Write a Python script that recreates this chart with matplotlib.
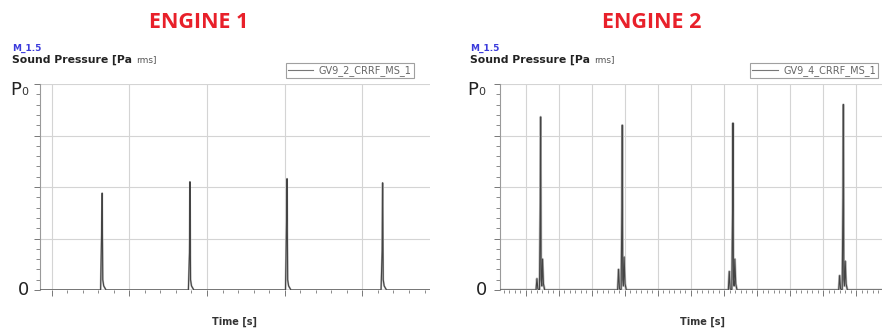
import matplotlib
matplotlib.use("Agg")
import matplotlib.pyplot as plt
from matplotlib.ticker import MultipleLocator
from matplotlib.text import Annotation

# ---------------- data ----------------
titles = ["ENGINE 1", "ENGINE 2"]
legend_labels = ["GV9_2_CRRF_MS_1", "GV9_4_CRRF_MS_1"]

# engine 1 : peak times and normalised heights (fraction of P0)
e1_times = [1.65, 2.78, 4.03, 5.26]
e1_heights = [0.47, 0.525, 0.54, 0.52]
e1_inner = [0.30, 0.18, 0.34, 0.19]          # darker inner part of spike
e1_xlim = (0.85, 5.87)

# engine 2 : main peaks, pre-peaks and after-bumps
e2_times = [1.45, 3.92, 7.27, 10.61]
e2_heights = [0.84, 0.80, 0.81, 0.90]
e2_pre = [0.055, 0.10, 0.09, 0.07]
e2_post = [0.15, 0.16, 0.15, 0.14]
e2_xlim = (0.22, 11.78)

fig = plt.figure(figsize=(8.82, 3.36), dpi=100)

H = 336.0
W = 882.0
def ax_rect(x0, x1, ytop, ybot):
    return [x0 / W, (H - ybot) / H, (x1 - x0) / W, (ybot - ytop) / H]

axL = fig.add_axes(ax_rect(40, 430, 84, 290))
axR = fig.add_axes(ax_rect(500, 882, 84, 290))

def build_trace(times, heights, inner, pre, post, xlim, w):
    xs = [xlim[0]]
    ys = [0.0]
    for i, t in enumerate(times):
        if pre is not None:
            xs += [t - 4 * w, t - 3.2 * w, t - 2.4 * w]
            ys += [0.0, pre[i], 0.005]
        xs += [t - w, t - 0.3 * w, t, t + 0.4 * w, t + w]
        ys += [0.0, inner[i] if inner is not None else heights[i] * 0.5, heights[i], 0.05, 0.02]
        if post is not None:
            xs += [t + 1.6 * w, t + 2.4 * w, t + 3.5 * w]
            ys += [post[i], 0.03, 0.0]
        else:
            xs += [t + 2.5 * w]
            ys += [0.0]
    xs.append(xlim[1])
    ys.append(0.0)
    return xs, ys

def style_axes(ax, xlim, major, minor):
    ax.set_xlim(*xlim)
    ax.set_ylim(0, 1.0)
    for s in ["top", "right", "bottom"]:
        ax.spines[s].set_visible(False)
    ax.spines["left"].set_color("#9a9a9a")
    ax.spines["left"].set_linewidth(0.8)
    ax.xaxis.set_major_locator(MultipleLocator(major))
    ax.xaxis.set_minor_locator(MultipleLocator(minor))
    ax.yaxis.set_major_locator(MultipleLocator(0.25))
    ax.yaxis.set_minor_locator(MultipleLocator(0.05))
    ax.tick_params(axis="both", which="both", labelleft=False, labelbottom=False,
                   color="#777777", direction="out")
    ax.tick_params(axis="x", which="major", length=4, width=0.7)
    ax.tick_params(axis="x", which="minor", length=2.5, width=0.6)
    ax.tick_params(axis="y", which="major", length=4, width=0.7)
    ax.tick_params(axis="y", which="minor", length=3, width=0.6)
    ax.grid(True, which="major", color="#d4d4d4", linewidth=0.8)
    ax.set_axisbelow(True)

# left panel
style_axes(axL, e1_xlim, 1.0, 0.2)
xs, ys = build_trace(e1_times, e1_heights, e1_inner, None, None, e1_xlim, 0.02)
axL.plot(xs, ys, color="#bbbbbb", lw=1.4, zorder=2)
axL.plot(xs, ys, color="#444444", lw=0.8, label=legend_labels[0], zorder=3)
axL.axhline(0, color="#555555", lw=1.0, zorder=1)

# right panel
style_axes(axR, e2_xlim, 1.0, 1 / 6)
xs2, ys2 = build_trace(e2_times, e2_heights, None, e2_pre, e2_post, e2_xlim, 0.035)
axR.plot(xs2, ys2, color="#bbbbbb", lw=1.8, zorder=2)
axR.plot(xs2, ys2, color="#444444", lw=0.8, label=legend_labels[1], zorder=3)
axR.axhline(0, color="#555555", lw=1.0, zorder=1)

for ax, anchor in [(axL, (0.958, 1.03)), (axR, (0.99, 1.03))]:
    leg = ax.legend(loc="lower right", bbox_to_anchor=anchor, frameon=True,
                    fancybox=False, fontsize=7, handlelength=2.6,
                    borderpad=0.2, handletextpad=0.6, borderaxespad=0)
    leg.get_frame().set_edgecolor("#888888")
    leg.get_frame().set_linewidth(0.8)
    for t in leg.get_texts():
        t.set_color("#666666")
    for l in leg.get_lines():
        l.set_color("#777777")

def px(x, y):
    return x / W, (H - y) / H

# titles
for xc, t in [(199, titles[0]), (652, titles[1])]:
    fig.text(*px(xc, 23), t, color="#e8202a", fontsize=15.5, fontweight="bold",
             family="Open Sans", ha="center", va="center")

# header texts
for x0 in [12, 470]:
    fig.text(*px(x0, 48), "M_1.5", color="#3b3bdc", fontsize=6.5, fontweight="bold",
             ha="left", va="center")
    t1 = fig.text(*px(x0, 60), "Sound Pressure [Pa", color="#222222", fontsize=7.8,
                  fontweight="bold", ha="left", va="center")
    fig.add_artist(Annotation("rms]", xy=(1, 0.5), xycoords=t1, xytext=(3, 0),
                              textcoords="offset points", ha="left", va="center",
                              fontsize=6.5, color="#555555"))

# P0 and 0 labels
for xp, x0 in [(10, 18), (467, 476)]:
    fig.text(*px(xp, 90), "P", fontsize=13, color="#222222", ha="left", va="center")
    fig.text(*px(xp + 11, 92), "0", fontsize=8, color="#333333", ha="left", va="center")
    fig.text(*px(x0, 290), "0", fontsize=13, color="#222222", ha="left", va="center")

# x labels
for xc in [235, 703]:
    fig.text(*px(xc, 322), "Time [s]", fontsize=7, fontweight="bold",
             color="#333333", ha="center", va="center")

fig.savefig("out.png", dpi=100, facecolor="white")
